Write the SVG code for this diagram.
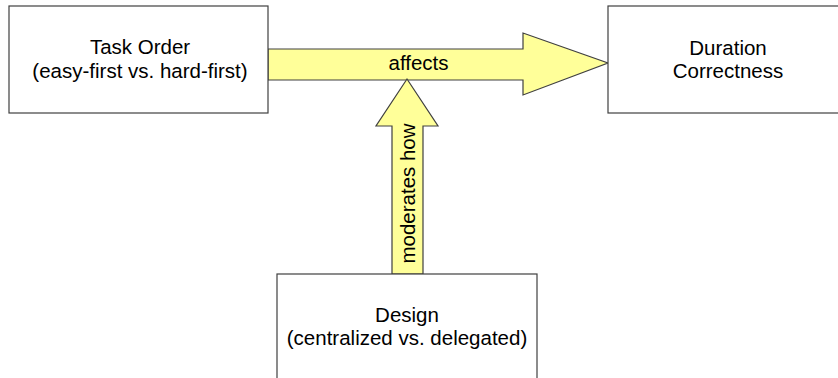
<svg xmlns="http://www.w3.org/2000/svg" width="838" height="378" viewBox="0 0 838 378">
  <style>
    .box { fill: #ffffff; stroke: #404040; stroke-width: 1.2; }
    .arrow { fill: #ffff99; stroke: #404040; stroke-width: 1.2; stroke-linejoin: miter; }
    .label { font-family: "Liberation Sans", Arial, sans-serif; font-size: 20.5px; fill: #000000; text-anchor: middle; }
  </style>
  <rect width="838" height="378" fill="#ffffff"/>

  <!-- connectors: block arrows -->
  <g id="connectors">
    <g id="affects">
      <path class="arrow" d="M268,49 L523,49 L523,33 L608,63 L523,95 L523,80 L268,80 Z"/>
      <text class="label" x="418.5" y="70">affects</text>
    </g>
    <g id="moderates">
      <path class="arrow" d="M392,274 L392,126 L376,126 L407,79 L438,126 L423,126 L423,274 Z"/>
      <text class="label" transform="translate(414.5,193.5) rotate(-90)" x="0" y="0">moderates how</text>
    </g>
  </g>

  <!-- nodes -->
  <g id="task-order">
    <rect class="box" x="9" y="6" width="259" height="107"/>
    <text class="label" x="140" y="54">Task Order</text>
    <text class="label" x="140" y="78">(easy-first vs. hard-first)</text>
  </g>

  <g id="outcome">
    <rect class="box" x="608" y="6" width="240" height="107"/>
    <text class="label" x="728" y="55">Duration</text>
    <text class="label" x="728" y="78">Correctness</text>
  </g>

  <g id="design">
    <rect class="box" x="277" y="274" width="260" height="120"/>
    <text class="label" x="407" y="322">Design</text>
    <text class="label" x="407" y="345">(centralized vs. delegated)</text>
  </g>
</svg>
